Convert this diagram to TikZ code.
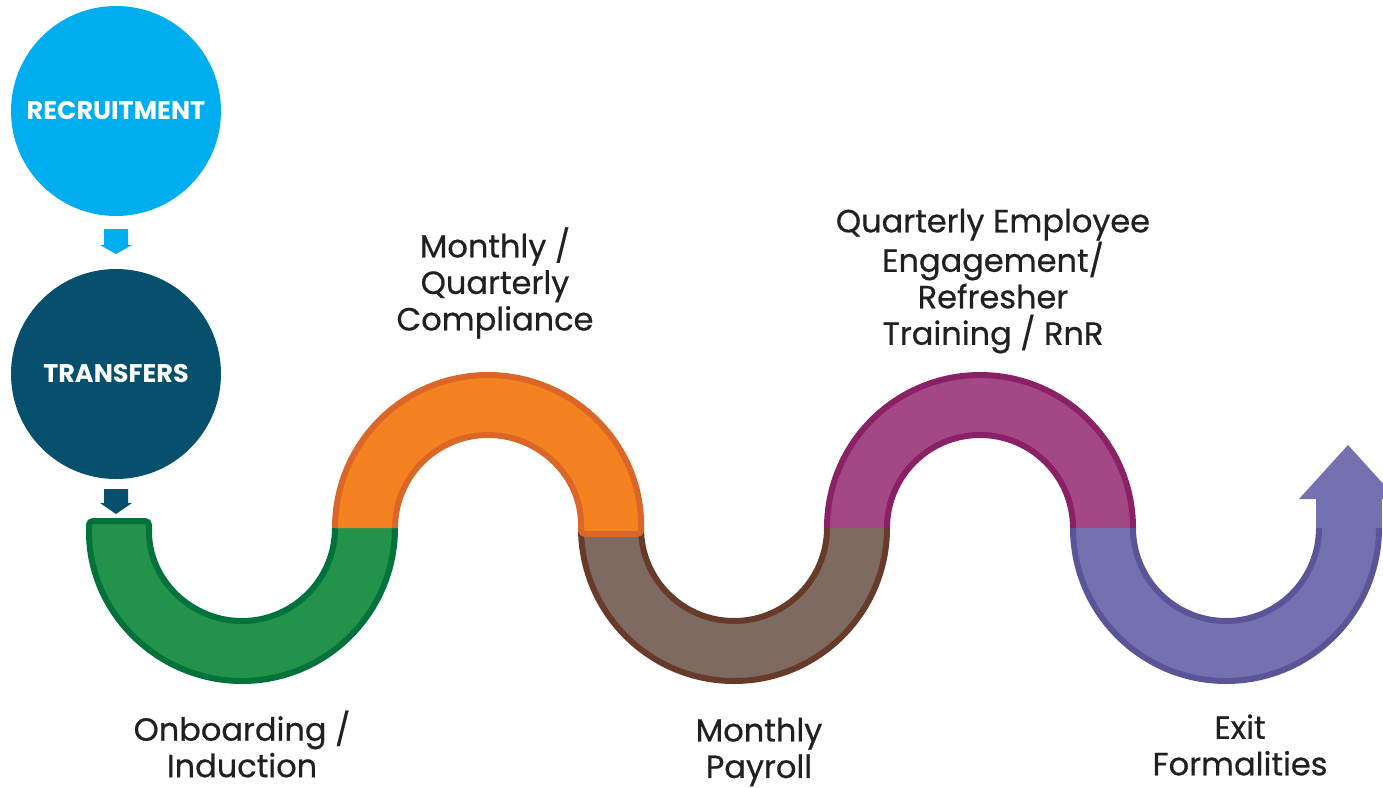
\documentclass[tikz,border=0pt]{standalone}
\usepackage{fontspec}
\setmainfont{Poppins}
\newfontfamily\medfont{Poppins}[FakeBold=0.6]
\definecolor{reccol}{HTML}{00AEEF}
\definecolor{trancol}{HTML}{06506D}
\definecolor{gfill}{HTML}{23924A}
\definecolor{gline}{HTML}{00723A}
\definecolor{ofill}{HTML}{F58220}
\definecolor{oline}{HTML}{DA6727}
\definecolor{bfill}{HTML}{7E6A60}
\definecolor{bline}{HTML}{673A2A}
\definecolor{mfill}{HTML}{A44785}
\definecolor{mline}{HTML}{8A2065}
\definecolor{pfill}{HTML}{7570B0}
\definecolor{pline}{HTML}{5B5499}
\definecolor{labeltext}{HTML}{231F20}
\begin{document}
\begin{tikzpicture}[x=1pt,y=1pt]
\tikzset{
 lbl/.style={text=labeltext, font=\medfont\fontsize{32}{36.5}\selectfont, align=center, inner sep=0pt},
 circ/.style={circle, inner sep=0pt, minimum size=210pt, text=white, font=\fontsize{25.5}{28}\selectfont\bfseries},
 ring/.style={line width=6pt},
}
\useasboundingbox (0,0) rectangle (1383,-787);
\clip (0,0) rectangle (1383,-787);
% circles
\node[circ, fill=reccol] (rec) at (116,-111) {RECRUITMENT};
\node[circ, fill=trancol] (tra) at (116,-374) {TRANSFERS};
% block arrows
\fill[reccol] (104,-229) -- (128,-229) -- (128,-245) -- (132,-245) -- (116,-254) -- (100,-245) -- (104,-245) -- cycle;
\fill[trancol] (104,-489) -- (128,-489) -- (128,-503) -- (132,-503) -- (116,-514) -- (100,-503) -- (104,-503) -- cycle;
% green
\filldraw[fill=gfill, draw=gline, ring, rounded corners=4pt] (395,-528) arc[start angle=0,end angle=-180,radius=153] -- (89,-521) -- (149,-521) -- (149,-528) arc[start angle=180,end angle=360,radius=93];
% brown
\fill[bfill] (581,-528) arc[start angle=180,end angle=360,radius=153] -- (827,-528) arc[start angle=0,end angle=-180,radius=93] -- cycle;
\draw[bline,ring] (581,-528) arc[start angle=180,end angle=360,radius=153];
\draw[bline,ring] (641,-528) arc[start angle=180,end angle=360,radius=93];
% orange
\filldraw[fill=ofill, draw=oline, ring, rounded corners=4pt] (335,-528) arc[start angle=180,end angle=0,radius=153] -- (641,-534) -- (581,-534) -- (581,-528) arc[start angle=0,end angle=180,radius=93];
% magenta
\fill[mfill] (827,-528) arc[start angle=180,end angle=0,radius=153] -- (1073,-528) arc[start angle=0,end angle=180,radius=93] -- cycle;
\draw[mline,ring] (827,-528) arc[start angle=180,end angle=0,radius=153];
\draw[mline,ring] (887,-528) arc[start angle=180,end angle=0,radius=93];
% purple
\fill[pfill] (1073,-528) arc[start angle=180,end angle=360,radius=153] -- (1319,-528) arc[start angle=0,end angle=-180,radius=93] -- cycle;
\fill[pfill] (1316,-529) rectangle (1382,-498);
\fill[pfill] (1299,-499) -- (1348,-445) -- (1397,-499) -- cycle;
\draw[pline,ring] (1073,-528) arc[start angle=180,end angle=360,radius=153];
\draw[pline,ring] (1133,-528) arc[start angle=180,end angle=360,radius=93];
% labels
\node[lbl] (l1) at (495,-283) {Monthly /\\Quarterly\\Compliance};
\node[lbl] (l2) at (993,-281) {Quarterly Employee\\Engagement/\\Refresher\\Training / RnR};
\node[lbl] (l3) at (242,-744) {Onboarding /\\Induction};
\node[lbl] (l4) at (759,-752) {Monthly\\Payroll};
\node[lbl] (l5) at (1240,-745) {Exit\\Formalities};
\end{tikzpicture}
\end{document}
